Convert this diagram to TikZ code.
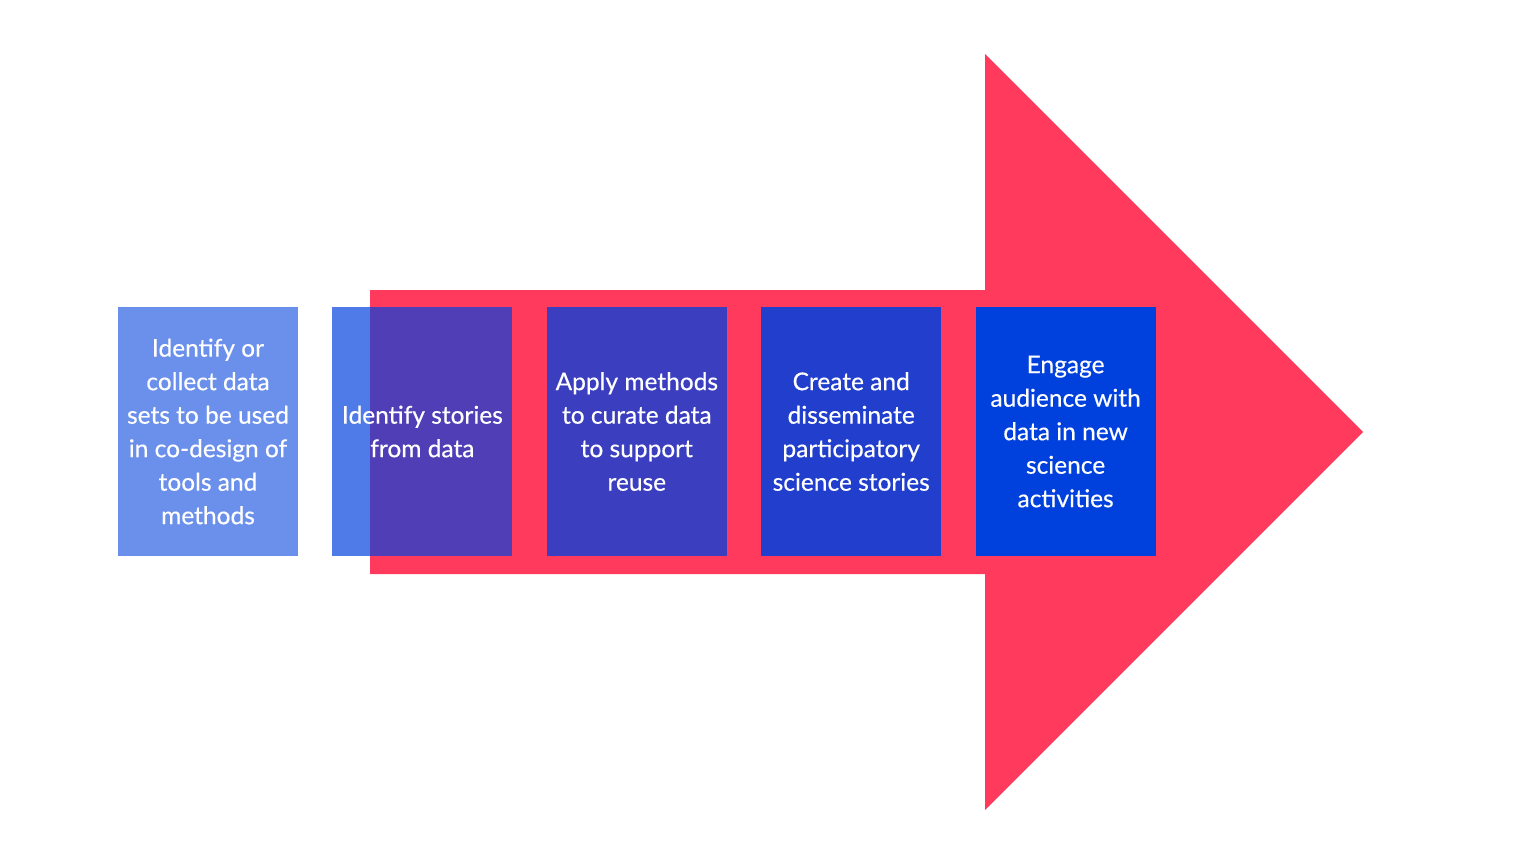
\documentclass[tikz,border=0pt]{standalone}
\usepackage{fontspec}
\setmainfont{Lato}
\newfontfamily\stepfont{Lato}[FakeBold=0.4]
\usetikzlibrary{positioning}
\definecolor{arrowred}{HTML}{FF3A5C}
\definecolor{stepblue}{HTML}{0040DD}
\tikzset{
  stepbox/.style={fill=stepblue, text=white, text opacity=1, minimum width=180pt,
    minimum height=249pt, inner sep=0pt, align=center,
    font=\stepfont\fontsize{24.5}{33.5}\selectfont},
}
\begin{document}
\begin{tikzpicture}[x=1pt, y=-1pt, node distance=34pt]

\useasboundingbox (0,0) rectangle (1536,864);

% Draw the big arrow
\fill [arrowred] (370,290) -- (985,290) -- (985,54) -- (1363,432)
  -- (985,810) -- (985,574) -- (370,574) -- cycle;

% Draw the five steps
\node [stepbox, fill opacity=0.58] (collect) at (208,431.5)
  {Identify or\\collect data\\sets to be used\\in co-design of\\tools and\\methods};
\node [stepbox, fill opacity=0.69, right=of collect] (stories)
  {Identify stories\\from data};
\node [stepbox, fill opacity=0.77, right=of stories] (curate)
  {Apply methods\\to curate data\\to support\\reuse};
\node [stepbox, fill opacity=0.87, right=of curate] (create)
  {Create and\\disseminate\\participatory\\science stories};
\node [stepbox, right=of create] (engage)
  {Engage\\audience with\\data in new\\science\\activities};

\end{tikzpicture}
\end{document}
